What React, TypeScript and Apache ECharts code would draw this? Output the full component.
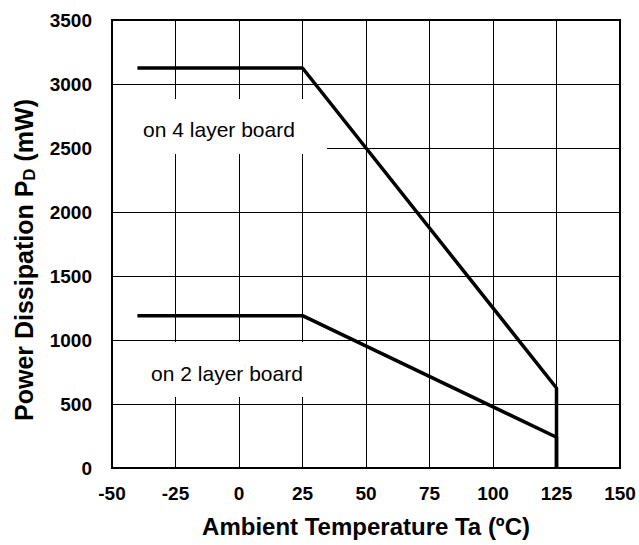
import React, { useEffect, useRef } from "react";
import * as echarts from "echarts";

const temps4: number[] = [-40, 25, 125, 125];
const power4: number[] = [3125, 3125, 625, 0];
const temps2: number[] = [-40, 25, 125, 125];
const power2: number[] = [1190, 1190, 240, 0];
const label4 = "on 4 layer board";
const label2 = "on 2 layer board";
const xTitle = "Ambient Temperature Ta (ºC)";

export default function App() {
  const ref = useRef<HTMLDivElement>(null);
  useEffect(() => {
    if (!ref.current) return;
    const chart = echarts.init(ref.current, null, { renderer: "svg" });
    const font = "Liberation Sans, Arial, sans-serif";
    const lineStyle = { color: "#000", width: 3.5 };
    chart.setOption({
      animation: false,
      backgroundColor: "#fff",
      textStyle: { fontFamily: font, color: "#000" },
      grid: {
        left: 112,
        right: 19,
        top: 20,
        bottom: 77,
        show: true,
        borderColor: "#000",
        borderWidth: 2,
        backgroundColor: "transparent",
        z: 3,
      },
      xAxis: {
        type: "value",
        min: -50,
        max: 150,
        interval: 25,
        name: xTitle,
        nameLocation: "middle",
        nameGap: 46,
        nameTextStyle: { fontFamily: font, fontWeight: "bold", fontSize: 24, color: "#000" },
        axisLine: { show: true, onZero: false, lineStyle: { color: "#000", width: 2 } },
        axisTick: { show: false },
        axisLabel: { fontFamily: font, fontWeight: "bold", fontSize: 19, color: "#000", margin: 16, formatter: (v: number) => String(v) },
        splitLine: { show: true, lineStyle: { color: "#000", width: 1 } },
      },
      yAxis: {
        type: "value",
        min: 0,
        max: 3500,
        interval: 500,
        name: "{n|Power Dissipation P}{s|D}{n| (mW)}",
        nameLocation: "middle",
        nameRotate: 90,
        nameGap: 74,
        nameTextStyle: {
          fontFamily: font,
          fontWeight: "bold",
          fontSize: 25,
          color: "#000",
          padding: [0, 32, 0, 0],
          rich: {
            n: { fontFamily: font, fontWeight: "bold", fontSize: 25, color: "#000" },
            s: { fontFamily: font, fontWeight: "bold", fontSize: 17, color: "#000", padding: [12, 0, 0, 0] },
          },
        },
        axisLine: { show: true, onZero: false, lineStyle: { color: "#000", width: 2 } },
        axisTick: { show: false },
        axisLabel: { fontFamily: font, fontWeight: "bold", fontSize: 19, color: "#000", margin: 20, formatter: (v: number) => String(v) },
        splitLine: { show: true, lineStyle: { color: "#000", width: 1 } },
      },
      graphic: [
        { type: "rect", left: 113, top: 99, shape: { width: 214, height: 55 }, style: { fill: "#fff" }, z: 1 },
        { type: "rect", left: 113, top: 342, shape: { width: 214, height: 55 }, style: { fill: "#fff" }, z: 1 },
        {
          type: "text",
          x: 219,
          y: 129,
          z: 5,
          style: { text: label4, fontFamily: font, fontSize: 21, fill: "#000", align: "center", verticalAlign: "middle" },
        },
        {
          type: "text",
          x: 227,
          y: 373,
          z: 5,
          style: { text: label2, fontFamily: font, fontSize: 21, fill: "#000", align: "center", verticalAlign: "middle" },
        },
      ],
      series: [
        {
          type: "line",
          data: temps4.map((t, i) => [t, power4[i]]),
          showSymbol: false,
          lineStyle,
          z: 4,
        },
        {
          type: "line",
          data: temps2.map((t, i) => [t, power2[i]]),
          showSymbol: false,
          lineStyle,
          z: 4,
        },
      ],
    });
    return () => chart.dispose();
  }, []);
  return <div ref={ref} style={{ position: "fixed", left: 0, top: 0, width: 639, height: 545 }} />;
}
